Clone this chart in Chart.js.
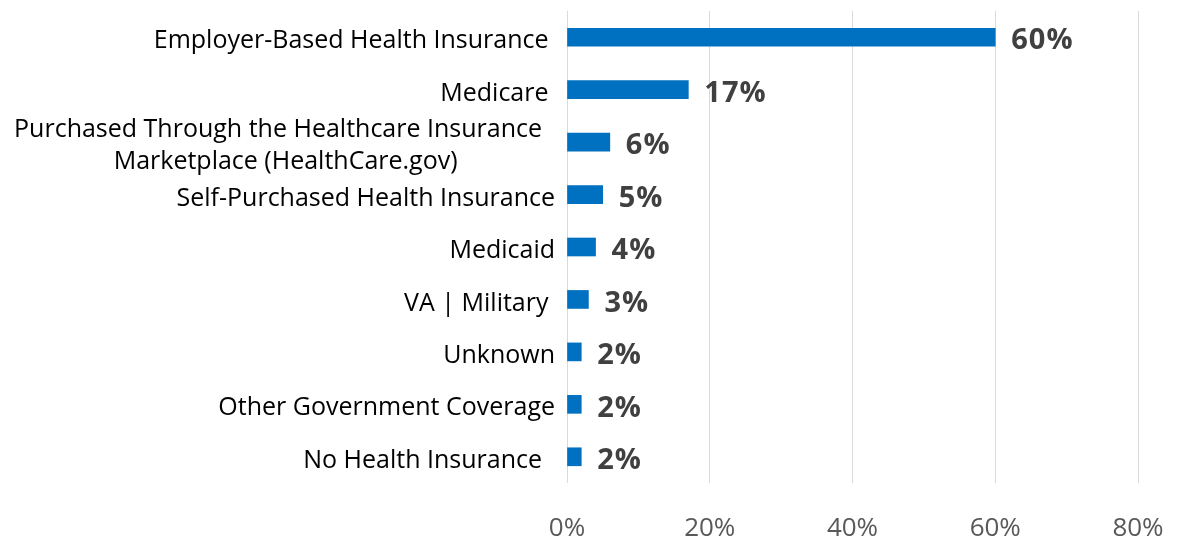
<!DOCTYPE html>
<html>
<head>
<meta charset="utf-8">
<script src="https://cdn.jsdelivr.net/npm/chart.js@4.4.1/dist/chart.umd.min.js"></script>
<style>
  html, body { margin: 0; padding: 0; background: #ffffff; }
  #wrap { width: 1180px; height: 536px; position: relative; }
</style>
</head>
<body>
<div id="wrap"><canvas id="c"></canvas></div>
<script>
const NB = '\u00A0';
const categories = [
  'Employer-Based Health Insurance' + NB,
  'Medicare' + NB,
  ['Purchased Through the Healthcare Insurance' + NB.repeat(2), 'Marketplace (HealthCare.gov)' + NB.repeat(15)],
  'Self-Purchased Health Insurance',
  'Medicaid',
  'VA | Military' + NB,
  'Unknown',
  'Other Government Coverage',
  'No Health Insurance' + NB.repeat(2)
];
const shareValues = [60, 17, 6, 5, 4, 3, 2, 2, 2];
const valueLabels = ['60%', '17%', '6%', '5%', '4%', '3%', '2%', '2%', '2%'];
const xTickValues = [0, 20, 40, 60, 80];

const LABEL_FONT = '"Open Sans", Lato, sans-serif';

const valueLabelPlugin = {
  id: 'valueLabels',
  afterDatasetsDraw(chart) {
    const ctx = chart.ctx;
    const meta = chart.getDatasetMeta(0);
    ctx.save();
    ctx.font = 'bold 29px ' + LABEL_FONT;
    ctx.letterSpacing = '1px';
    ctx.fillStyle = '#404040';
    ctx.textAlign = 'left';
    ctx.textBaseline = 'middle';
    meta.data.forEach((bar, i) => {
      ctx.fillText(valueLabels[i], bar.x + 16, bar.y + 4);
    });
    ctx.restore();
  }
};

new Chart(document.getElementById('c'), {
  type: 'bar',
  data: {
    labels: categories,
    datasets: [{
      data: shareValues,
      backgroundColor: '#0070C0',
      borderWidth: 0,
      barThickness: 18
    }]
  },
  options: {
    indexAxis: 'y',
    responsive: true,
    maintainAspectRatio: false,
    animation: false,
    layout: { padding: { top: 11, right: 42, bottom: 0, left: 0 } },
    plugins: {
      legend: { display: false },
      tooltip: { enabled: false }
    },
    scales: {
      x: {
        min: 0,
        max: 80,
        afterBuildTicks(scale) { scale.ticks = xTickValues.map(v => ({ value: v })); },
        afterFit(scale) { scale.height = 53; scale.paddingLeft = 0; scale.paddingRight = 0; },
        grid: { color: '#d9d9d9', lineWidth: 1, drawTicks: false },
        border: { display: false },
        ticks: {
          padding: 30,
          color: '#595959',
          font: { family: LABEL_FONT, size: 26 },
          callback: v => v + '%',
          maxRotation: 0
        }
      },
      y: {
        afterFit(scale) { scale.width = 567; scale.paddingTop = 0; scale.paddingBottom = 0; },
        grid: { display: false, drawTicks: false },
        border: { display: false },
        ticks: {
          padding: 12,
          labelOffset: 4,
          color: '#000000',
          font: { family: LABEL_FONT, size: 25, lineHeight: 1.3 },
          autoSkip: false
        }
      }
    }
  },
  plugins: [valueLabelPlugin]
});
</script>
</body>
</html>
